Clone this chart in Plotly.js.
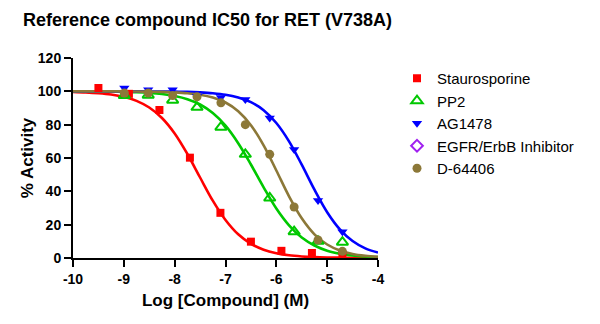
<!DOCTYPE html>
<html>
<head>
<meta charset="utf-8">
<script src="https://cdn.plot.ly/plotly-3.0.1.min.js"></script>
<style>html,body{margin:0;padding:0;background:#fff;}#chart{width:600px;height:324px;}</style>
</head>
<body>
<div id="chart"></div>
<script>
// ---- data ----
const seriesNames = ["Staurosporine", "PP2", "AG1478", "EGFR/ErbB Inhibitor", "D-64406"];

// measured points (log M, % activity)
const stauroX = [-9.5, -8.9, -8.3, -7.7, -7.1, -6.5, -5.9, -5.3, -4.7];
const stauroY = [102, 98.5, 88.8, 60.2, 27.1, 9.8, 4.3, 3.0, 2.0];

const pp2X = [-8.99, -8.52, -8.04, -7.56, -7.09, -6.61, -6.13, -5.65, -5.18, -4.70];
const pp2Y = [97.5, 97.7, 94.7, 90.4, 78.5, 62.2, 36.0, 15.8, 10.0, 9.5];

const ag1478X = [-8.99, -8.52, -8.04, -7.56, -7.09, -6.61, -6.13, -5.65, -5.18, -4.70];
const ag1478Y = [102, 101, 101, 97, 96.3, 95.1, 84.0, 65.1, 34.5, 15.8];

const egfrX = [null];
const egfrY = [null];

const d64406X = [-8.99, -8.52, -8.04, -7.56, -7.09, -6.61, -6.13, -5.65, -5.18, -4.70];
const d64406Y = [99, 99, 97.5, 96.7, 93.1, 80.0, 62.2, 30.6, 10.8, 4.0];

// fitted curves, read at 0.25 log steps
const curveX = [-10, -9.75, -9.5, -9.25, -9, -8.75, -8.5, -8.25, -8, -7.75, -7.5, -7.25, -7,
                -6.75, -6.5, -6.25, -6, -5.75, -5.5, -5.25, -5, -4.75, -4.5, -4.25, -4];
const stauroCurve = [99.7, 99.4, 98.9, 98.1, 96.7, 94.3, 90.3, 84.0, 74.7, 62.4, 48.3, 34.4, 22.8,
                     14.2, 8.5, 5.0, 2.9, 1.6, 0.9, 0.5, 0.3, 0.2, 0.1, 0.05, 0.03];
const pp2Curve = [99.97, 99.94, 99.9, 99.8, 99.7, 99.5, 99.1, 98.4, 97.2, 95.3, 92.1, 87.0, 79.4,
                  68.9, 56.1, 42.4, 29.7, 19.6, 12.3, 7.5, 4.4, 2.6, 1.5, 0.9, 0.5];
const ag1478Curve = [100, 100, 99.99, 99.99, 99.98, 99.96, 99.94, 99.9, 99.8, 99.7, 99.4, 98.9, 98.0,
                     96.3, 93.5, 88.7, 81.0, 70.0, 56.0, 41.0, 27.5, 17.2, 10.2, 5.8, 3.3];
const d64406Curve = [100, 100, 100, 99.98, 99.95, 99.9, 99.8, 99.7, 99.4, 98.9, 98.0, 96.3, 93.3,
                     88.1, 79.7, 67.6, 52.5, 37.0, 23.8, 14.2, 8.1, 4.5, 2.4, 1.3, 0.7];

const xTicks = [-10, -9, -8, -7, -6, -5, -4];
const yTicks = [0, 20, 40, 60, 80, 100, 120];

// ---- styling ----
const cRed = "#ff0000", cGreen = "#00c800", cBlue = "#0000ff", cPurple = "#a020f0", cBrown = "#8c7838";
const F = "Liberation Sans, Arial, sans-serif";

function curve(y, color) {
  return {x: curveX, y: y, mode: "lines", line: {color: color, width: 2.6, shape: "spline"},
          showlegend: false, hoverinfo: "skip"};
}

const traces = [
  curve(stauroCurve, cRed),
  curve(pp2Curve, cGreen),
  curve(ag1478Curve, cBlue),
  curve(d64406Curve, cBrown),
  {x: stauroX, y: stauroY, name: seriesNames[0], mode: "markers",
   marker: {symbol: "square", size: 8, color: cRed}},
  {x: pp2X, y: pp2Y, name: seriesNames[1], mode: "markers",
   marker: {symbol: "triangle-up-open", size: 10, color: cGreen, line: {width: 2, color: cGreen}}},
  {x: ag1478X, y: ag1478Y, name: seriesNames[2], mode: "markers",
   marker: {symbol: "triangle-down", size: 9, color: cBlue}},
  {x: egfrX, y: egfrY, name: seriesNames[3], mode: "markers",
   marker: {symbol: "diamond-open", size: 9, color: cPurple, line: {width: 2, color: cPurple}}},
  {x: d64406X, y: d64406Y, name: seriesNames[4], mode: "markers",
   marker: {symbol: "circle", size: 9, color: cBrown}}
];

const layout = {
  width: 600, height: 324,
  margin: {l: 73, r: 222, t: 58, b: 66},
  paper_bgcolor: "#fff", plot_bgcolor: "#fff",
  font: {family: F, color: "#000"},
  title: {text: "<b>Reference compound IC50 for RET (V738A)</b>", font: {size: 18, family: F, color: "#000"},
          xref: "container", yref: "container", x: 23/600, xanchor: "left", y: 1 - 13/324, yanchor: "top"},
  xaxis: {
    range: [-10, -4], tickvals: xTicks, ticktext: xTicks.map(v => "<b>" + v + "</b>"),
    showgrid: false, zeroline: false, showline: true, linecolor: "#000", linewidth: 2,
    ticks: "outside", ticklen: 7, tickwidth: 2, tickcolor: "#000",
    tickfont: {size: 14, family: F, color: "#000"},
    title: {text: "<b>Log [Compound] (M)</b>", font: {size: 17, family: F, color: "#000"}, standoff: 8},
    fixedrange: true
  },
  yaxis: {
    range: [0, 120], tickvals: yTicks, ticktext: yTicks.map(v => "<b>" + v + "</b>"),
    showgrid: false, zeroline: false, showline: true, linecolor: "#000", linewidth: 2,
    ticks: "outside", ticklen: 7, tickwidth: 2, tickcolor: "#000",
    tickfont: {size: 14, family: F, color: "#000"},
    title: {text: "<b>% Activity</b>", font: {size: 17, family: F, color: "#000"}, standoff: 0},
    fixedrange: true
  },
  showlegend: true,
  legend: {x: (397 - 73) / 305, xanchor: "left", y: 0.98, yanchor: "top",
           font: {size: 15, family: F, color: "#000"}, bgcolor: "rgba(0,0,0,0)", borderwidth: 0,
           itemclick: false, itemdoubleclick: false}
};

Plotly.newPlot("chart", traces, layout, {displayModeBar: false, staticPlot: true});
</script>
</body>
</html>
